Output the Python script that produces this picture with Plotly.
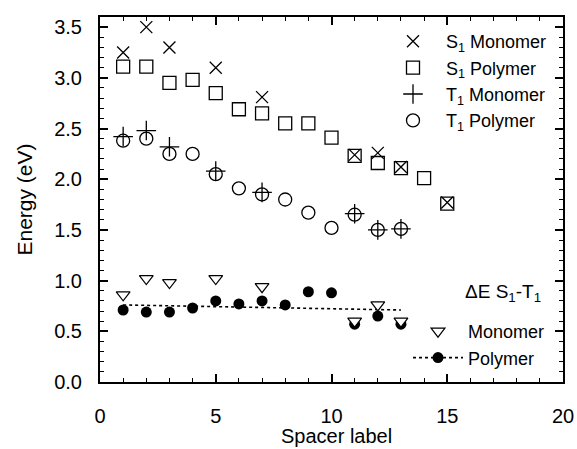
import plotly.graph_objects as go

# ---- data ----
s1_mono_x = [1, 2, 3, 5, 7, 11, 12, 13, 15]
s1_mono_y = [3.25, 3.50, 3.30, 3.10, 2.81, 2.24, 2.26, 2.12, 1.77]

s1_poly_x = [1, 2, 3, 4, 5, 6, 7, 8, 9, 10, 11, 12, 13, 14, 15]
s1_poly_y = [3.11, 3.11, 2.95, 2.98, 2.85, 2.69, 2.65, 2.55, 2.55, 2.41, 2.23, 2.16, 2.11, 2.01, 1.76]

t1_mono_x = [1, 2, 3, 5, 7, 11, 12, 13]
t1_mono_y = [2.42, 2.48, 2.32, 2.08, 1.87, 1.66, 1.50, 1.51]

t1_poly_x = [1, 2, 3, 4, 5, 6, 7, 8, 9, 10, 11, 12, 13]
t1_poly_y = [2.38, 2.40, 2.25, 2.25, 2.05, 1.91, 1.85, 1.80, 1.67, 1.52, 1.65, 1.50, 1.51]

de_mono_x = [1, 2, 3, 5, 7, 11, 12, 13]
de_mono_y = [0.86, 1.02, 0.98, 1.02, 0.94, 0.60, 0.76, 0.60]

de_poly_x = [1, 2, 3, 4, 5, 6, 7, 8, 9, 10, 11, 12, 13]
de_poly_y = [0.71, 0.69, 0.69, 0.73, 0.80, 0.77, 0.80, 0.76, 0.89, 0.88, 0.57, 0.65, 0.57]

fit_x = [1, 13]
fit_y = [0.76, 0.71]

x_ticks = [0, 5, 10, 15, 20]
y_ticks = [0.0, 0.5, 1.0, 1.5, 2.0, 2.5, 3.0, 3.5]

FONT = "Liberation Sans, Arial, sans-serif"
BLK = "black"

fig = go.Figure()

fig.add_trace(go.Scatter(
    x=s1_mono_x, y=s1_mono_y, mode="markers", name="S<sub>1</sub> Monomer",
    marker=dict(symbol="x-thin-open", size=12, line=dict(color=BLK, width=1.3), color=BLK),
    legend="legend", legendrank=1))
fig.add_trace(go.Scatter(
    x=s1_poly_x, y=s1_poly_y, mode="markers", name="S<sub>1</sub> Polymer",
    marker=dict(symbol="square-open", size=13, line=dict(color=BLK, width=1.3), color=BLK),
    legend="legend", legendrank=2))
fig.add_trace(go.Scatter(
    x=t1_mono_x, y=t1_mono_y, mode="markers", name="T<sub>1</sub> Monomer",
    marker=dict(symbol="cross-thin-open", size=14, line=dict(color=BLK, width=1.3), color=BLK),
    legend="legend", legendrank=3))
fig.add_trace(go.Scatter(
    x=t1_poly_x, y=t1_poly_y, mode="markers", name="T<sub>1</sub> Polymer",
    marker=dict(symbol="circle-open", size=13, line=dict(color=BLK, width=1.3), color=BLK),
    legend="legend", legendrank=4))

# fitted dotted line for polymer gap
fig.add_trace(go.Scatter(
    x=fit_x, y=fit_y, mode="lines", showlegend=False,
    line=dict(color=BLK, width=1.6, dash="dot")))
fig.add_trace(go.Scatter(
    x=de_poly_x, y=de_poly_y, mode="markers", showlegend=False,
    marker=dict(symbol="circle", size=11, color=BLK, line=dict(width=0))))
fig.add_trace(go.Scatter(
    x=de_mono_x, y=de_mono_y, mode="markers", name="Monomer",
    marker=dict(symbol="triangle-down", size=12, color="white", line=dict(color=BLK, width=1.2)),
    legend="legend2", legendrank=1))
# legend entry for polymer (line + marker)
fig.add_trace(go.Scatter(
    x=[None], y=[None], mode="lines+markers", name="Polymer",
    line=dict(color=BLK, width=1.6, dash="dot"),
    marker=dict(symbol="circle", size=11, color=BLK),
    legend="legend2", legendrank=2))

L, R, T, B = 100, 14, 17, 67
PW, PH = 577 - L - R, 449 - T - B

axis_common = dict(
    showline=True, linecolor=BLK, linewidth=2, mirror="ticks",
    ticks="inside", ticklen=8, tickwidth=1.5, tickcolor=BLK,
    showgrid=False, zeroline=False,
    tickfont=dict(family=FONT, size=20, color=BLK),
)


def px_x(p):
    return (p - L) / PW


def px_y(p):
    return (T + PH - p) / PH


fig.update_layout(
    width=577, height=449,
    margin=dict(l=L, r=R, t=T, b=B, autoexpand=False),
    paper_bgcolor="white", plot_bgcolor="white",
    font=dict(family=FONT, size=20, color=BLK),
    xaxis=dict(range=[0, 20], tickvals=x_ticks, ticklabelstandoff=15,
               minor=dict(dtick=1, ticks="inside", ticklen=4, tickwidth=1.3, tickcolor=BLK),
               **axis_common),
    yaxis=dict(range=[0, 3.6], tickvals=y_ticks, tickformat=".1f", ticklabelstandoff=12,
               minor=dict(dtick=0.1, ticks="inside", ticklen=4, tickwidth=1.3, tickcolor=BLK),
               **axis_common),
    legend=dict(x=px_x(380), y=px_y(23), xanchor="left", yanchor="top",
                bgcolor="rgba(0,0,0,0)", borderwidth=0, itemwidth=56,
                tracegroupgap=0, font=dict(family=FONT, size=18, color=BLK)),
    legend2=dict(x=px_x(408), y=px_y(313), xanchor="left", yanchor="top",
                 bgcolor="rgba(0,0,0,0)", borderwidth=0, itemwidth=50,
                 tracegroupgap=0, font=dict(family=FONT, size=18, color=BLK)),
    annotations=[
        dict(text="Spacer label", xref="paper", yref="paper", x=0.51, y=0,
             yshift=-67, showarrow=False, xanchor="center", yanchor="bottom",
             font=dict(family=FONT, size=20, color=BLK)),
        dict(text="Energy (eV)", xref="paper", yref="paper", x=0, y=0.5,
             xshift=-76, showarrow=False, textangle=-90, xanchor="center", yanchor="middle",
             font=dict(family=FONT, size=21, color=BLK)),
        dict(text="\u0394E S<sub>1</sub>-T<sub>1</sub>", xref="paper", yref="paper",
             x=px_x(543), y=px_y(293), showarrow=False, xanchor="right", yanchor="middle",
             font=dict(family=FONT, size=19, color=BLK)),
    ],
)

fig.write_html("out.html")
